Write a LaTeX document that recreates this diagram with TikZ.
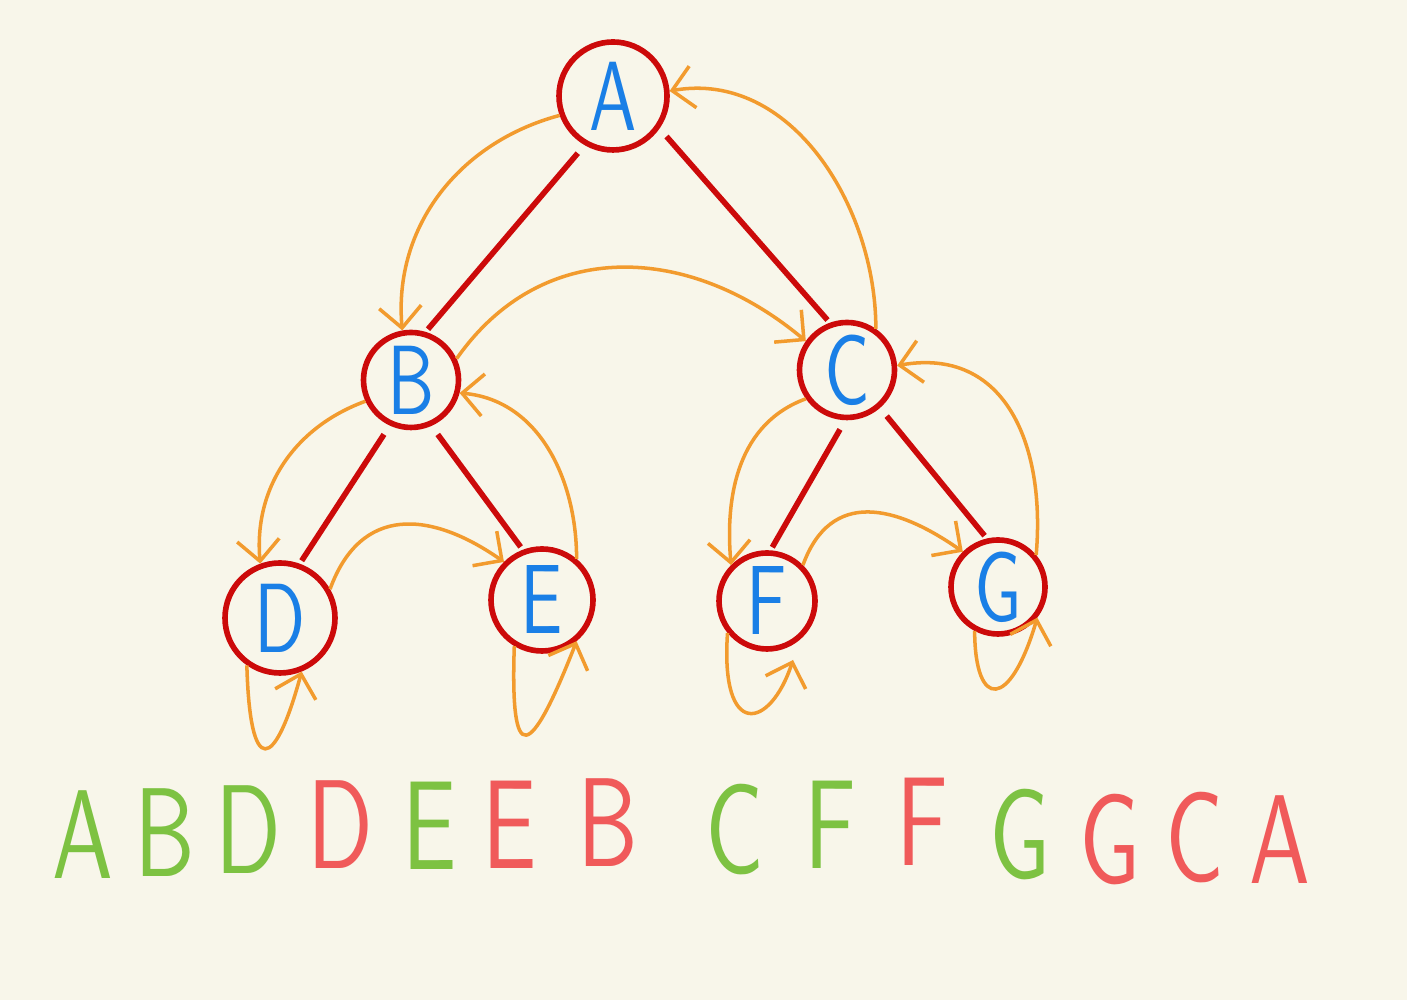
\documentclass[tikz,border=0pt]{standalone}
\usepackage{fontspec}
\usetikzlibrary{arrows.meta}

\newfontfamily\handfont{lmsans10-regular.otf}[FakeStretch=0.72]

\definecolor{paper}{HTML}{F8F6EA}
\definecolor{ring}{HTML}{CC0A0A}
\definecolor{ink}{HTML}{1A7FE6}
\definecolor{trip}{HTML}{F29B2E}
\definecolor{firstv}{HTML}{7DC242}
\definecolor{lastv}{HTML}{F05A5A}

\begin{document}
\begin{tikzpicture}[
		v/.style = {circle, draw=ring, line width=1.6pt, text=ink, inner sep=0pt,
			font=\handfont\fontsize{28}{28}\selectfont},
		l/.style = {ring, line width=1.6pt, shorten <=3pt, shorten >=1pt},
		t/.style = {trip, line width=1pt, -{Straight Barb[length=6pt,width=12pt]}},
		g/.style = {text=firstv, font=\handfont\fontsize{36}{36}\selectfont},
		r/.style = {text=lastv, font=\handfont\fontsize{36}{36}\selectfont}
		]
		
		\fill[paper] (0,0) rectangle (14.07,10);
		\useasboundingbox (0,0) rectangle (14.07,10);
		
		% === === Tree === ===
		\node[v, minimum size=1.08cm]	(A)	at	(6.13, 9.04)	{A};
		\node[v, minimum size=0.95cm]	(B)	at	(4.11, 6.20)	{B};
		\node[v, minimum size=0.95cm]	(C)	at	(8.47, 6.30)	{C};
		\node[v, minimum size=1.10cm]	(D)	at	(2.80, 3.82)	{D};
		\node[v, minimum size=1.02cm]	(E)	at	(5.42, 4.00)	{E};
		\node[v, minimum size=0.96cm]	(F)	at	(7.67, 3.99)	{F};
		\node[v, minimum size=0.94cm]	(G)	at	(9.98, 4.13)	{G};
		
		\draw[l]	(A.240)	--	(B.73);
		\draw[l]	(A.-35)	--	(C.110);
		\draw[l]	(B.245)	--	(D.70);
		\draw[l]	(B.-66)	--	(E.111);
		\draw[l]	(C.-92)	--	(F.86);
		\draw[l]	(C.-49)	--	(G.103);
		
		% === === Walk === ===
		\draw[t]	(A.200)	to[out=195, in=95]	(B.100);
		\draw[t]	(B.205)	to[out=200, in=95]	(D.110);
		\draw[t]	(D.235)	.. controls (2.50,2.20) and (2.75,2.30) ..	(D.-68);
		\draw[t]	(D.30)	to[out=70, in=145, looseness=1.3]	(E.135);
		\draw[t]	(E.239)	.. controls (5.10,2.30) and (5.30,2.40) ..	(E.-50);
		\draw[t]	(E.50)	to[out=90, in=-5]	(B.-15);
		\draw[t]	(B.25)	to[out=55, in=140, looseness=1.1]	(C.145);
		\draw[t]	(C.215)	to[out=200, in=95]	(F.135);
		\draw[t]	(F.219)	.. controls (7.20,2.60) and (7.70,2.70) ..	(7.93,3.40);
		\draw[t]	(F.45)	to[out=70, in=145, looseness=1.3]	(G.135);
		\draw[t]	(G.242)	.. controls (9.75,2.90) and (10.10,2.90) ..	(G.-38);
		\draw[t]	(G.40)	to[out=85, in=10, looseness=1.2]	(C.5);
		\draw[t]	(C.55)	to[out=90, in=10]	(A.5);
		
		% === === Order === ===
		\node[g]	(o1)	at	(0.83, 1.65)	{A};
		\node[g]	(o2)	at	(1.65, 1.67)	{B};
		\node[g]	(o3)	at	(2.48, 1.70)	{D};
		\node[r]	(o4)	at	(3.40, 1.75)	{D};
		\node[g]	(o5)	at	(4.30, 1.74)	{E};
		\node[r]	(o6)	at	(5.10, 1.75)	{E};
		\node[r]	(o7)	at	(6.08, 1.77)	{B};
		\node[g]	(o8)	at	(7.35, 1.70)	{C};
		\node[g]	(o9)	at	(8.30, 1.75)	{F};
		\node[r]	(o10)	at	(9.22, 1.78)	{F};
		\node[g]	(o11)	at	(10.20, 1.65)	{G};
		\node[r]	(o12)	at	(11.10, 1.60)	{G};
		\node[r]	(o13)	at	(11.95, 1.62)	{C};
		\node[r]	(o14)	at	(12.80, 1.60)	{A};
		
	\end{tikzpicture}
\end{document}
